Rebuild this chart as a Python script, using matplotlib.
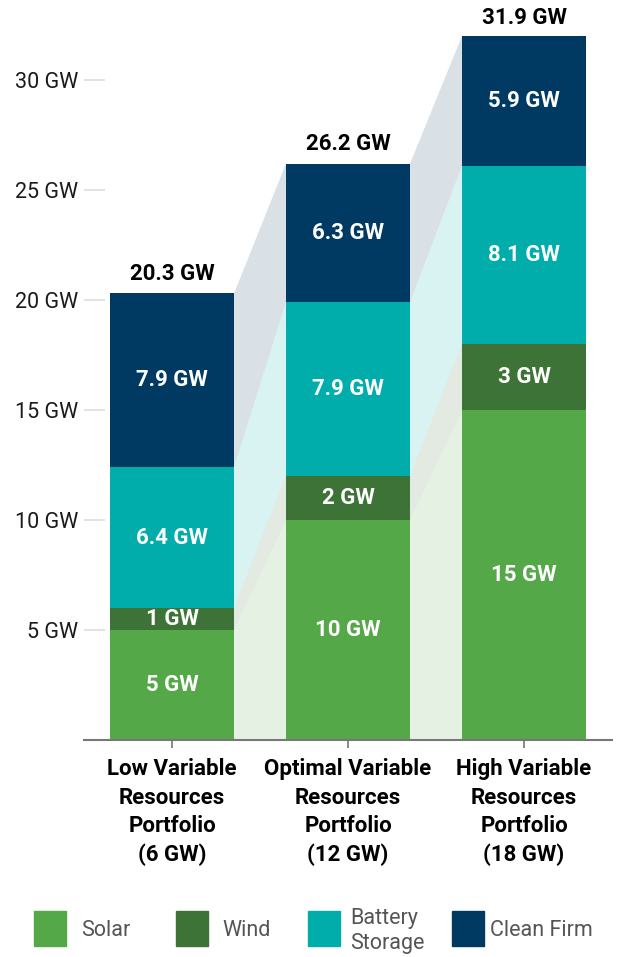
import matplotlib
matplotlib.use("Agg")
import matplotlib.pyplot as plt
from matplotlib.patches import Rectangle

plt.rcParams["font.family"] = ["Roboto", "DejaVu Sans"]

PORTFOLIOS = ["Low Variable\nResources\nPortfolio\n(6 GW)",
              "Optimal Variable\nResources\nPortfolio\n(12 GW)",
              "High Variable\nResources\nPortfolio\n(18 GW)"]
SOLAR = [5, 10, 15]
WIND = [1, 2, 3]
BATTERY = [6.4, 7.9, 8.1]
CLEAN_FIRM = [7.9, 6.3, 5.9]
TOTALS = [20.3, 26.2, 31.9]

SERIES = ["Solar", "Wind", "Battery\nStorage", "Clean Firm"]
COLORS = ["#54a847", "#3d7337", "#00adab", "#003a63"]
Y_TICKS = [5, 10, 15, 20, 25, 30]

BAR_W = 0.705
FS = 16

fig = plt.figure(figsize=(6.24, 9.57), dpi=100)
ax = fig.add_axes([84 / 624, (957 - 740) / 957, 528 / 624, 726 / 957])

x = list(range(len(PORTFOLIOS)))
layers = [SOLAR, WIND, BATTERY, CLEAN_FIRM]
bottoms = [0.0] * len(x)
for vals, color in zip(layers, COLORS):
    tops = [b + v for b, v in zip(bottoms, vals)]
    ax.bar(x, vals, width=BAR_W, bottom=bottoms, color=color, zorder=3)
    # light connectors between neighbouring bars
    for i in range(len(x) - 1):
        xa = x[i] + BAR_W / 2
        xb = x[i + 1] - BAR_W / 2
        ax.fill([xa, xa, xb, xb],
                [bottoms[i], tops[i], tops[i + 1], bottoms[i + 1]],
                color=color, alpha=0.15, lw=0, zorder=1)
    for i, v in enumerate(vals):
        ax.text(x[i], bottoms[i] + v / 2, f"{v:g} GW", ha="center",
                va="center", color="white", fontsize=FS,
                fontweight="bold", zorder=4)
    bottoms = tops

for i, t in enumerate(TOTALS):
    ax.annotate(f"{t:g} GW", (x[i], t), xytext=(0, 10),
                textcoords="offset points", ha="center", va="baseline",
                fontsize=FS, fontweight="bold", color="black")

ax.set_xlim(-0.5, 2.5)
ax.set_ylim(0, 33)
ax.set_yticks(Y_TICKS)
ax.set_yticklabels([f"{v} GW" for v in Y_TICKS], fontsize=15.5, color="#1a1a1a")
ax.tick_params(axis="y", direction="in", length=15, width=1.2,
               color="#dddddd", pad=4, left=True)
ax.set_xticks(x)
ax.set_xticklabels(PORTFOLIOS, fontsize=FS, fontweight="bold",
                   linespacing=1.38, va="top")
ax.tick_params(axis="x", direction="out", length=6, width=1.2,
               color="#777777", pad=7)
for side in ["left", "right", "top"]:
    ax.spines[side].set_visible(False)
ax.spines["bottom"].set_color("#777777")
ax.spines["bottom"].set_linewidth(1.5)
ax.spines["bottom"].set_zorder(5)

# legend drawn in figure pixels
legend_sq = [34, 176, 308, 452]
legend_tx = [81, 222, 350, 490]
for label, color, sx, tx in zip(SERIES, COLORS, legend_sq, legend_tx):
    fig.patches.append(Rectangle((sx / 624, (957 - 946) / 957), 32 / 624,
                                 35 / 957, transform=fig.transFigure,
                                 color=color))
    fig.text(tx / 624, (957 - 931) / 957, label, ha="left", va="center",
             fontsize=15.5, color="#555555", linespacing=1.3)

fig.savefig("out.png", dpi=100)
